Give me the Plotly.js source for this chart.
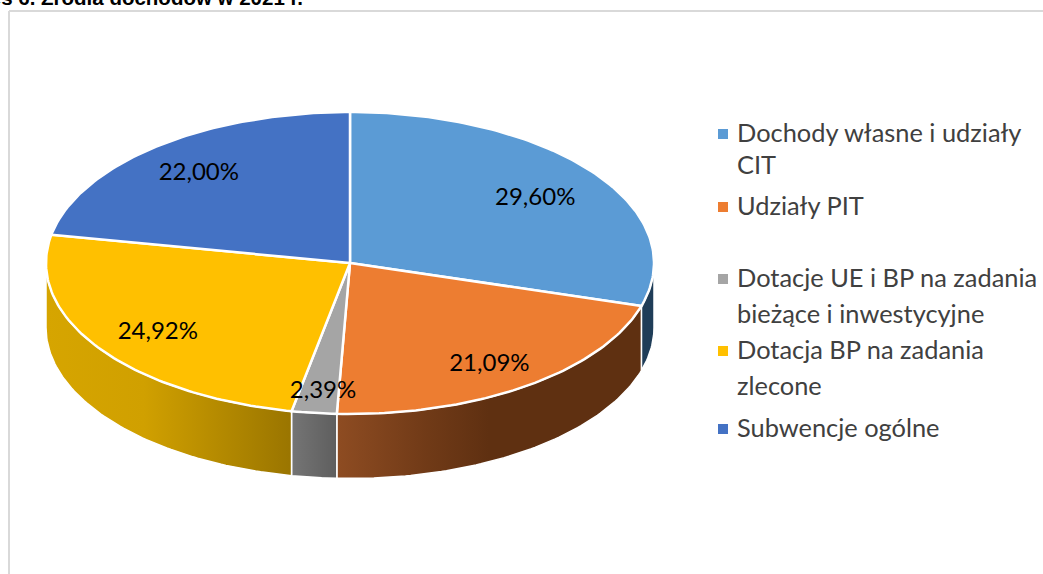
<!DOCTYPE html>
<html><head><meta charset="utf-8">
<script src="https://cdn.plot.ly/plotly-3.0.1.min.js"></script>
<style>html,body{margin:0;padding:0;background:#fff;overflow:hidden}</style>
</head><body><div id="chart" style="width:1043px;height:574px"></div>
<script>
const categories = ["Dochody własne i udziały CIT","Udziały PIT","Dotacje UE i BP na zadania bieżące i inwestycyjne","Dotacja BP na zadania zlecone","Subwencje ogólne"];
const values = [29.60,21.09,2.39,24.92,22.00];
const topColors = ["#5B9BD5","#ED7D31","#A5A5A5","#FFC000","#4472C4"];
const wallScales = [
  [[0,"#1F3D58"],[1,"#1F3D58"]],
  [[0,"#8E4C22"],[0.3,"#703A17"],[0.5,"#5F3011"],[1,"#5F3011"]],
  [[0,"#757575"],[1,"#5E5E5E"]],
  [[0,"#D6A500"],[0.4,"#D0A000"],[1,"#9A7500"]],
  [[0,"#2E4F8A"],[1,"#2E4F8A"]]
];
const legendLines = [
  ["Dochody własne i udziały",0,134,true],["CIT",0,166,false],
  ["Udziały PIT",1,207,true],
  ["Dotacje UE i BP na zadania",2,279,true],["bieżące i inwestycyjne",2,315,false],
  ["Dotacja BP na zadania",3,351,true],["zlecone",3,387,false],
  ["Subwencje ogólne",4,429,true]
];
const labelRx = [0.76,0.79,0.75,0.763,0.78];
const labelRy = [0.73,0.81,0.85,0.81,0.78];

const cx=350, cy=263, rx=304, ry=151, depth=64.5;
const total = values.reduce((a,b)=>a+b,0);
const ex = a => cx+rx*Math.sin(a*Math.PI/180);
const ey = a => cy-ry*Math.cos(a*Math.PI/180);
function arc(a0,a1){const n=Math.max(2,Math.ceil(Math.abs(a1-a0)));const p=[];for(let i=0;i<=n;i++)p.push(a0+(a1-a0)*i/n);return p;}

const edges=[0]; values.forEach(v=>edges.push(edges[edges.length-1]+v/total*360));
const traces=[];
// side walls
values.forEach((v,i)=>{
  const a0=Math.max(edges[i],90), a1=Math.min(edges[i+1],270);
  if(a1<=a0) return;
  const f=arc(a0,a1), b=f.slice().reverse();
  traces.push({type:"scatter",mode:"lines",
    x:f.map(ex).concat(b.map(ex)).concat([ex(a0)]),
    y:f.map(ey).concat(b.map(a=>ey(a)+depth)).concat([ey(a0)]),
    fill:"toself",fillgradient:{type:"horizontal",colorscale:wallScales[i]},
    line:{color:"#FFFFFF",width:1.5},hoverinfo:"skip",showlegend:false});
});
// top faces
values.forEach((v,i)=>{
  const f=arc(edges[i],edges[i+1]);
  traces.push({type:"scatter",mode:"lines",name:categories[i],
    x:[cx].concat(f.map(ex)).concat([cx]),
    y:[cy].concat(f.map(ey)).concat([cy]),
    fill:"toself",fillcolor:topColors[i],
    line:{color:"#FFFFFF",width:2.5},hoverinfo:"skip",showlegend:false});
});
// data labels
const mids=values.map((v,i)=>(edges[i]+edges[i+1])/2*Math.PI/180);
traces.push({type:"scatter",mode:"text",
  x:mids.map((m,i)=>cx+rx*labelRx[i]*Math.sin(m)),
  y:mids.map((m,i)=>cy+2-ry*labelRy[i]*Math.cos(m)),
  text:values.map(v=>v.toFixed(2).replace(".",",")+"%"),
  textposition:"middle center",cliponaxis:false,
  textfont:{family:"Lato, sans-serif",size:24,color:"#000000"},hoverinfo:"skip",showlegend:false});
// legend markers
const markerLines=legendLines.filter(l=>l[3]);
traces.push({type:"scatter",mode:"markers",
  x:markerLines.map(()=>723),y:markerLines.map(l=>l[2]),
  marker:{symbol:"square",size:10,color:markerLines.map(l=>topColors[l[1]]),line:{width:0}},
  hoverinfo:"skip",showlegend:false});

const annotations=legendLines.map(l=>({x:736,y:l[2]-2,xref:"x",yref:"y",xanchor:"left",yanchor:"middle",
  text:l[0],showarrow:false,align:"left",borderpad:0,
  font:{family:"Lato, sans-serif",size:25.4,color:"#404040"}}));
annotations.push({x:304,y:10,xref:"x",yref:"y",xanchor:"right",yanchor:"bottom",showarrow:false,borderpad:0,
  text:"<b>Wykres 6. Źródła dochodów w 2021 r.</b>",
  font:{family:"Liberation Sans, Arial, sans-serif",size:20.5,color:"#000000"}});

const layout={width:1043,height:574,margin:{l:0,r:0,t:0,b:0},paper_bgcolor:"#FFFFFF",plot_bgcolor:"#FFFFFF",
  showlegend:false,
  xaxis:{range:[0,1043],visible:false,fixedrange:true},
  yaxis:{range:[574,0],visible:false,fixedrange:true},
  annotations,
  shapes:[
   {type:"line",xref:"x",yref:"y",x0:9,y0:11,x1:1043,y1:11,line:{color:"#D9D9D9",width:2},layer:"below"},
   {type:"line",xref:"x",yref:"y",x0:9,y0:11,x1:9,y1:574,line:{color:"#D9D9D9",width:2},layer:"below"}
  ]};
Plotly.newPlot("chart",traces,layout,{displayModeBar:false,staticPlot:true});
</script></body></html>
